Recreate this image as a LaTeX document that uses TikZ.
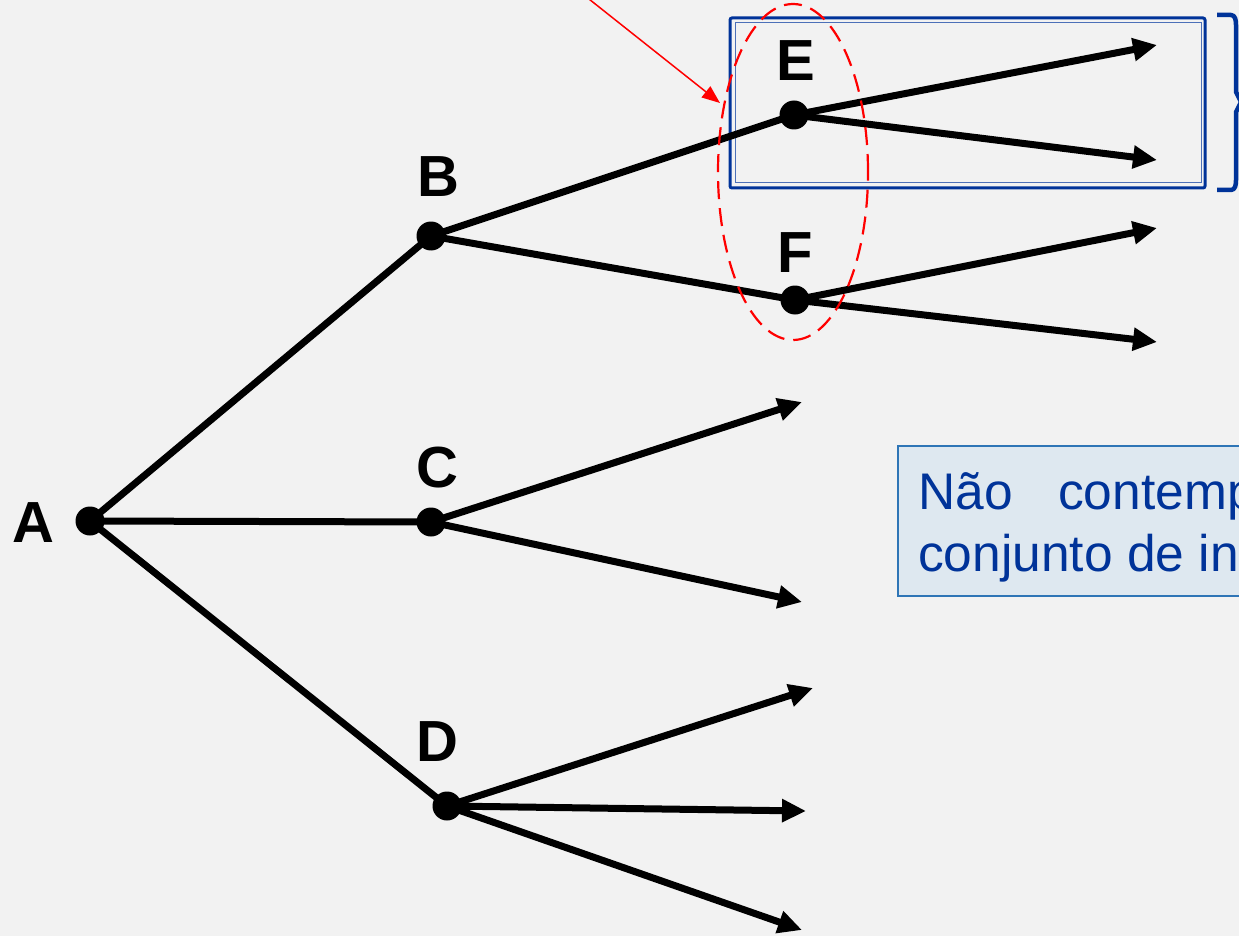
\documentclass[tikz,border=0pt]{standalone}
\usepackage{fontspec}
\setmainfont{Liberation Sans}
\usetikzlibrary{arrows.meta}
\definecolor{bg}{HTML}{F2F2F2}
\definecolor{navy}{HTML}{003399}
\definecolor{boxfill}{HTML}{DEE8F0}
\definecolor{boxline}{HTML}{2E75B6}
\tikzset{
  dot/.style={circle,fill=black,inner sep=0pt,minimum size=29pt},
  lbl/.style={font=\fontsize{58}{60}\selectfont\bfseries,text=black,inner sep=0pt},
  edge/.style={line width=7pt,black},
  arr/.style={line width=7pt,black,-{Triangle[length=24pt,width=22pt]}},
  txt/.style={font=\fontsize{51.5}{60}\selectfont,text=navy,inner sep=0pt,anchor=base west}
}
\begin{document}
\begin{tikzpicture}[x=1pt,y=-1pt]
\useasboundingbox (0,0) rectangle (1239,936);
\clip (0,0) rectangle (1239,936);
\fill[bg] (0,0) rectangle (1239,936);

% coordinates of dots
\coordinate (A) at (90,521);
\coordinate (B) at (431,236);
\coordinate (C) at (431,522);
\coordinate (D) at (447,806);
\coordinate (E) at (794,115);
\coordinate (F) at (795,300);
\coordinate (E1) at (1157,45);
\coordinate (E2) at (1157,160);
\coordinate (F1) at (1157,228);
\coordinate (F2) at (1157,342);
\coordinate (C1) at (802,402);
\coordinate (C2) at (802,602);
\coordinate (D1) at (813,688);
\coordinate (D2) at (806,811);
\coordinate (D3) at (802,930);

% blue double box
\draw[navy,line width=3pt,rounded corners=2pt] (730,18) rectangle (1205,188);
\draw[navy!70,line width=1pt] (735,23) rectangle (1201,183);

% bracket
\draw[navy,line width=4.5pt,line join=round] (1217,15) -- (1231,15) to[out=0,in=90] (1236,25) -- (1236,92) -- (1241,102) -- (1236,112) -- (1236,180) to[out=-90,in=0] (1231,190) -- (1217,190);

% edges
\draw[edge] (A) -- (B);
\draw[edge] (A) -- (C);
\draw[edge] (A) -- (D);
\draw[edge] (B) -- (E);
\draw[edge] (B) -- (F);
\draw[arr] (E) -- (E1);
\draw[arr] (E) -- (E2);
\draw[arr] (F) -- (F1);
\draw[arr] (F) -- (F2);
\draw[arr] (C) -- (C1);
\draw[arr] (C) -- (C2);
\draw[arr] (D) -- (D1);
\draw[arr] (D) -- (D2);
\draw[arr] (D) -- (D3);

% dots
\foreach \p in {A,B,C,D,E,F} \node[dot] (n\p) at (\p) {};

% labels
\node[lbl] (lA) at (33,523) {A};
\node[lbl] (lB) at (438,177) {B};
\node[lbl] (lC) at (437,468) {C};
\node[lbl] (lD) at (437,742) {D};
\node[lbl] (lE) at (796,61) {E};
\node[lbl] (lF) at (795,253) {F};

% red dashed ellipse
\draw[red,line width=2.2pt,dash pattern=on 18pt off 9pt] (793,172) ellipse [x radius=75pt, y radius=168pt];

% red pointer arrow
\coordinate (rs) at (565,-20);
\coordinate (rt) at (720,103);
\draw[red,line width=1.5pt,-{Triangle[length=18pt,width=14pt]}] (rs) -- (rt);

% text box
\draw[boxline,fill=boxfill,line width=1.2pt] (898,446) rectangle (1260,596);
\node[txt] (t1) at (918,509) {Não};
\node[txt] (t2) at (1058,509) {contemp};
\node[txt] (t3) at (918,571) {conjunto de in};
\end{tikzpicture}
\end{document}
